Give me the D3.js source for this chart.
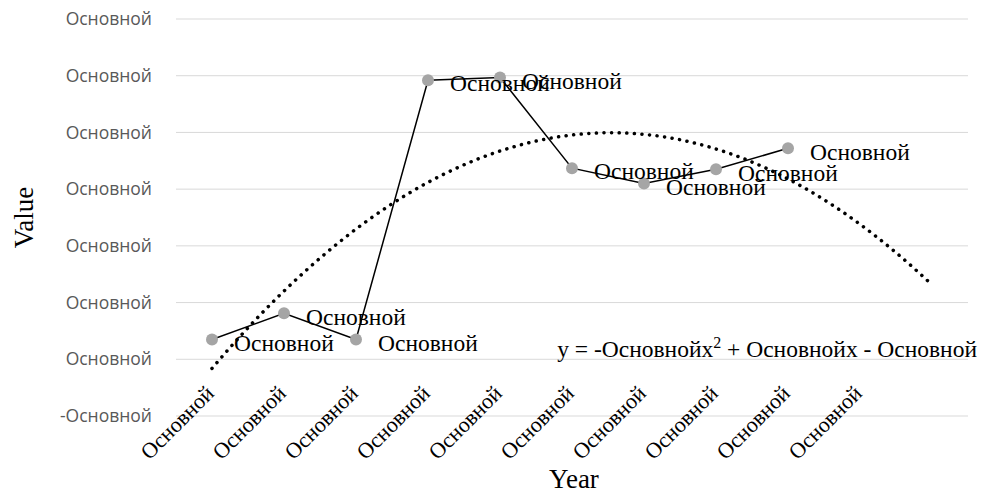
<!DOCTYPE html>
<html>
<head>
<meta charset="utf-8">
<script src="https://cdn.jsdelivr.net/npm/d3@7"></script>
<style>
  body { margin: 0; background: #fff; }
</style>
</head>
<body>
<svg id="chart"></svg>
<script>
const width = 984, height = 495;

// categories (last slot has no data, only the trendline forecast)
const categories = ["Основной", "Основной", "Основной", "Основной", "Основной",
  "Основной", "Основной", "Основной", "Основной", "Основной", ""];
const values = [0.35, 0.81, 0.35, 4.92, 4.97, 3.37, 3.10, 3.35, 3.72];
const pointLabels = ["Основной", "Основной", "Основной", "Основной", "Основной",
  "Основной", "Основной", "Основной", "Основной"];
const yTicks = [-1, 0, 1, 2, 3, 4, 5, 6];
const yTickLabels = ["-Основной", "Основной", "Основной", "Основной", "Основной",
  "Основной", "Основной", "Основной"];
const equationParts = ["y = -Основнойx", "2", " + Основнойx - Основной"];

const margin = { top: 19, right: 16, bottom: 79, left: 176 };
const serif = "'Liberation Serif', 'Times New Roman', serif";
const sans = "'Open Sans', 'Noto Sans', sans-serif";

const svg = d3.select("#chart")
  .attr("width", width)
  .attr("height", height);

const x = d3.scaleBand()
  .domain(d3.range(categories.length))
  .range([margin.left, width - margin.right]);

const cx = i => x(i) + x.bandwidth() / 2;

// continuous x for the trendline (1-based period number)
const xt = d3.scaleLinear()
  .domain([1, categories.length])
  .range([cx(0), cx(categories.length - 1)]);

const y = d3.scaleLinear()
  .domain([-1, 6])
  .range([height - margin.bottom, margin.top]);

// gridlines
svg.append("g")
  .selectAll("line")
  .data(yTicks)
  .join("line")
  .attr("x1", margin.left)
  .attr("x2", width - margin.right)
  .attr("y1", d => y(d))
  .attr("y2", d => y(d))
  .attr("stroke", "#d9d9d9")
  .attr("stroke-width", 1);

// y axis labels
svg.append("g")
  .attr("font-family", sans)
  .attr("font-size", 17.5)
  .attr("fill", "#595959")
  .attr("text-anchor", "end")
  .selectAll("text")
  .data(yTicks)
  .join("text")
  .attr("x", 152)
  .attr("y", d => y(d))
  .attr("dy", "0.35em")
  .text((d, i) => yTickLabels[i]);

// x axis labels, rotated (axis sits at value 0)
svg.append("g")
  .attr("font-family", serif)
  .attr("font-size", 22)
  .attr("fill", "#000")
  .attr("text-anchor", "end")
  .selectAll("text")
  .data(categories)
  .join("text")
  .attr("transform", (d, i) => `translate(${cx(i) - 2},${y(0) + 30}) rotate(-45)`)
  .attr("dy", "0.35em")
  .text(d => d);

// polynomial (order 2) trendline, least squares over the points
const xs = values.map((d, i) => i + 1);
const n = xs.length;
const mx = d3.mean(xs);
const t = xs.map(v => v - mx);
const St2 = d3.sum(t, v => v * v);
const St4 = d3.sum(t, v => v ** 4);
const Sy = d3.sum(values);
const Sty = d3.sum(t, (v, i) => v * values[i]);
const St2y = d3.sum(t, (v, i) => v * v * values[i]);
const cq = (St2y - St2 * Sy / n) / (St4 - St2 * St2 / n);
const bq = Sty / St2;
const aq = (Sy - cq * St2) / n;
const trend = v => aq + bq * (v - mx) + cq * (v - mx) ** 2;

const trendPts = d3.range(1, categories.length + 0.001, 0.05).map(v => [v, trend(v)]);
svg.append("path")
  .datum(trendPts)
  .attr("fill", "none")
  .attr("stroke", "#000")
  .attr("stroke-width", 3.5)
  .attr("stroke-linecap", "round")
  .attr("stroke-dasharray", "0.1 7.5")
  .attr("d", d3.line().x(d => xt(d[0])).y(d => y(d[1])));

// series line
svg.append("path")
  .datum(values)
  .attr("fill", "none")
  .attr("stroke", "#000")
  .attr("stroke-width", 1.5)
  .attr("d", d3.line().x((d, i) => cx(i)).y(d => y(d)));

// markers
svg.append("g")
  .attr("fill", "#a5a5a5")
  .selectAll("circle")
  .data(values)
  .join("circle")
  .attr("cx", (d, i) => cx(i))
  .attr("cy", d => y(d))
  .attr("r", 6);

// data labels
svg.append("g")
  .attr("font-family", serif)
  .attr("font-size", 23.5)
  .attr("fill", "#000")
  .selectAll("text")
  .data(values)
  .join("text")
  .attr("x", (d, i) => cx(i) + 22)
  .attr("y", d => y(d) + 3)
  .attr("dy", "0.35em")
  .text((d, i) => pointLabels[i]);

// trendline equation
const eq = svg.append("text")
  .attr("x", 977)
  .attr("y", 357)
  .attr("font-family", serif)
  .attr("font-size", 23.5)
  .attr("text-anchor", "end");
eq.append("tspan").text(equationParts[0]);
eq.append("tspan").attr("dy", -9).attr("font-size", 16).text(equationParts[1]);
eq.append("tspan").attr("dy", 9).text(equationParts[2]);

// axis titles
svg.append("text")
  .attr("transform", `translate(33,${(margin.top + height - margin.bottom) / 2}) rotate(-90)`)
  .attr("font-family", serif)
  .attr("font-size", 27)
  .attr("text-anchor", "middle")
  .text("Value");

svg.append("text")
  .attr("x", 574)
  .attr("y", 488)
  .attr("font-family", serif)
  .attr("font-size", 27)
  .attr("text-anchor", "middle")
  .text("Year");
</script>
</body>
</html>
